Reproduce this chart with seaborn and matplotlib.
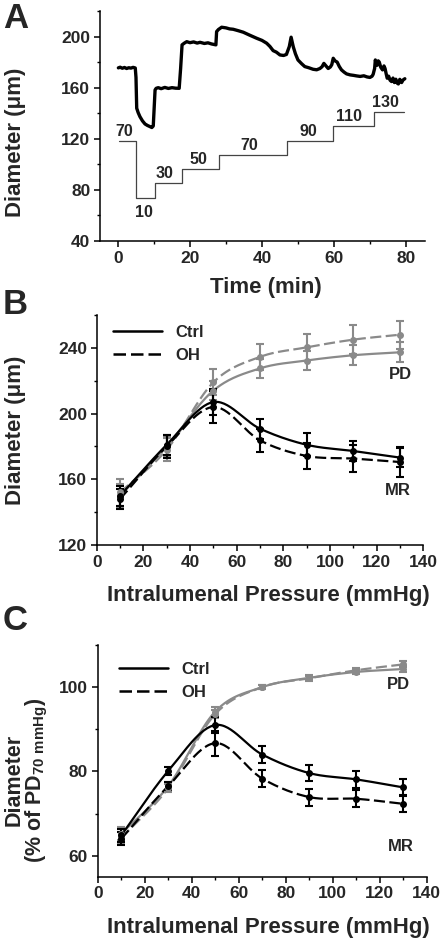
import numpy as np
import matplotlib
matplotlib.use("Agg")
import matplotlib.pyplot as plt
from matplotlib.ticker import MultipleLocator
import seaborn as sns

sns.set_theme(style="ticks")
plt.rcParams["font.family"] = ["Liberation Sans", "DejaVu Sans"]
plt.rcParams["font.weight"] = "bold"
plt.rcParams["mathtext.fontset"] = "custom"
plt.rcParams["mathtext.rm"] = "Liberation Sans:bold"
plt.rcParams["mathtext.it"] = "Liberation Sans:bold"
plt.rcParams["mathtext.bf"] = "Liberation Sans:bold"

# ---- panel A: diameter trace over time with pressure steps
trace_t = [0.1, 0.6, 1.2, 1.8, 2.4, 3.0, 3.6, 4.2, 4.8, 5.0, 5.2, 5.6, 6.1, 6.8, 7.5, 8.2, 8.9, 9.4, 9.8,
           10.3, 10.6, 11.2, 12.0, 13.0, 14.0, 15.0, 16.0, 17.0, 17.4, 17.8, 18.4, 19.1, 20.0, 21.0, 22.0,
           22.8, 24.0, 25.0, 26.0, 27.2, 27.4, 27.9, 28.8, 30.0, 31.0, 32.0, 33.4, 34.8, 36.5, 38.5,
           40.0, 41.3, 42.2, 43.1, 44.0, 45.0, 46.0, 46.8, 47.6, 48.1, 48.7, 49.3, 50.0, 51.0, 51.9,
           53.0, 54.2, 55.2, 56.1, 56.7, 57.2, 57.8, 58.4, 59.0, 59.4, 59.8, 60.3, 60.9, 61.5, 62.1,
           62.8, 63.5, 64.5, 65.5, 66.3, 67.3, 68.3, 69.2, 70.0, 70.6, 70.9, 71.3, 71.5, 71.8, 72.0,
           72.3, 72.6, 73.0, 73.5, 73.9, 74.2, 74.5, 74.8, 75.2, 75.6, 76.0, 76.4, 76.8, 77.2, 77.6,
           77.9, 78.3, 78.8, 79.2, 79.7]
trace_d = [175.5, 176.0, 175.2, 175.8, 175.0, 175.6, 175.3, 175.9, 175.4, 168.0, 143.9, 140.5, 137.3, 134.0,
           131.6, 130.4, 129.5, 128.8, 130.0, 158.2, 159.5, 160.0, 159.2, 160.2, 159.4, 160.0, 159.6, 159.5,
           175.0, 193.5, 194.8, 196.0, 195.2, 195.8, 194.9, 195.5, 194.6, 195.1, 194.2, 193.5, 203.9,
           205.5, 207.3, 206.8, 206.0, 205.7, 204.6, 203.4, 201.2, 198.7, 197.0, 194.8, 192.3, 189.0, 187.8,
           185.6, 185.2, 186.0, 192.2, 199.5, 192.0, 186.5, 181.7, 178.8, 176.5, 175.6, 174.4, 174.0, 175.0,
           176.4, 179.0, 177.0, 175.0, 176.2, 178.0, 183.0, 181.0, 180.0, 176.5, 173.9, 172.2, 170.8, 170.0,
           169.6, 169.2, 168.8, 169.3, 168.4, 168.0, 169.0, 170.5, 175.0, 181.7, 178.0, 177.5, 181.0,
           180.0, 176.0, 173.9, 177.0, 175.0, 171.0, 167.4, 169.0, 165.8, 164.8, 167.5, 164.0, 166.6,
           163.5, 162.9, 166.5, 164.0, 166.0, 167.0]

step_t = [0.3, 5.0, 10.3, 17.7, 28.0, 47.0, 59.8, 71.1, 79.5]
step_level = [118, 73.5, 85, 96, 107, 118.5, 130, 141, 141]
step_labels = ["70", "10", "30", "50", "70", "90", "110", "130"]
step_label_t = [1.7, 7.1, 12.8, 22.3, 36.5, 52.8, 64.2, 74.4]
step_label_y = [125.6, 62.3, 92.5, 103.4, 114.5, 125.6, 137.3, 148.5]

# ---- panels B and C: pressure-diameter relations
pressure = [10, 30, 50, 70, 90, 110, 130]

b_pd_ctrl = [150, 180, 214, 227.5, 232.3, 235.5, 237.3]
b_pd_ctrl_err = [7, 6, 6, 6, 6, 6, 6]
b_pd_oh = [152, 178, 219, 234.5, 240.3, 245, 248]
b_pd_oh_err = [8, 7, 8, 8, 8, 9, 8.5]
b_mr_ctrl = [150, 181, 207, 190.8, 181, 177.2, 173.2]
b_mr_ctrl_err = [6, 6, 8, 6, 7, 6, 6]
b_mr_oh = [148, 180, 204, 183.7, 174.2, 172.6, 170.5]
b_mr_oh_err = [6, 7, 10, 7, 8, 8, 9]

c_pd_ctrl = [65.2, 76.5, 94.2, 100, 102.2, 103.6, 104.3]
c_pd_ctrl_err = [1.5, 1.0, 1.0, 0.5, 0.6, 0.6, 0.7]
c_pd_oh = [64.2, 76.0, 93.6, 100, 102.1, 104.0, 105.4]
c_pd_oh_err = [1.5, 1.0, 1.0, 0.5, 0.6, 0.6, 0.7]
c_mr_ctrl = [64.8, 80.1, 91.0, 84.0, 79.6, 78.1, 76.2]
c_mr_ctrl_err = [1.5, 1.0, 2.0, 2.0, 2.0, 2.0, 2.0]
c_mr_oh = [64.0, 76.5, 86.7, 78.3, 73.9, 73.5, 72.3]
c_mr_oh_err = [1.5, 1.0, 3.0, 2.0, 2.0, 2.0, 2.0]

GRAY = "#8a8a8a"
BLACK = "#000000"
W, H = 445, 938


def smooth(x, y, n=30):
    # Catmull-Rom curve through the measured points (drawing only)
    P = np.column_stack([np.asarray(x, float), np.asarray(y, float)])
    P = np.vstack([2 * P[0] - P[1], P, 2 * P[-1] - P[-2]])
    segs = []
    t = np.linspace(0, 1, n, endpoint=False)[:, None]
    for i in range(1, len(P) - 2):
        p0, p1, p2, p3 = P[i - 1], P[i], P[i + 1], P[i + 2]
        segs.append(0.5 * (2 * p1 + (-p0 + p2) * t + (2 * p0 - 5 * p1 + 4 * p2 - p3) * t ** 2
                           + (-p0 + 3 * p1 - 3 * p2 + p3) * t ** 3))
    segs.append(P[-2][None])
    c = np.vstack(segs)
    return c[:, 0], c[:, 1]


def px_axes(l, r, t, b):
    return fig.add_axes([l / W, (H - b) / H, (r - l) / W, (b - t) / H])


def style(ax):
    sns.despine(ax=ax)
    for s in ("left", "bottom"):
        ax.spines[s].set_linewidth(1.1)
        ax.spines[s].set_color("black")
    ax.tick_params(which="major", direction="out", length=4, width=1.1, labelsize=12.5, pad=3, color="black")
    ax.tick_params(which="minor", direction="out", length=2.5, width=1.0, color="black")
    for lab in ax.get_xticklabels() + ax.get_yticklabels():
        lab.set_fontweight("bold")


def series(ax, x, y, err, color, dashed):
    sx, sy = smooth(x, y)
    ls = (0, (5, 2)) if dashed else "-"
    ax.plot(sx, sy, color=color, lw=1.6, ls=ls, zorder=2)
    ax.errorbar(x, y, yerr=err, fmt="o", ms=4, color=color, ecolor=color,
                elinewidth=1.5, capsize=3, capthick=1.5, zorder=3)


fig = plt.figure(figsize=(W / 100, H / 100), dpi=100)

# ---------------- A
axA = px_axes(100, 425, 11, 241)
sns.lineplot(x=trace_t, y=trace_d, ax=axA, color=BLACK, lw=2.4, sort=False)
axA.step(step_t, step_level, where="post", color="#444444", lw=0.9)
for lab, tx, ty in zip(step_labels, step_label_t, step_label_y):
    axA.text(tx, ty, lab, ha="center", va="center", fontsize=11.5, fontweight="bold")
axA.set_xlim(-5, 85.3)
axA.set_ylim(40, 220)
axA.xaxis.set_major_locator(MultipleLocator(20))
axA.xaxis.set_minor_locator(MultipleLocator(10))
axA.yaxis.set_major_locator(MultipleLocator(40))
axA.yaxis.set_minor_locator(MultipleLocator(20))
axA.set_yticks([40, 80, 120, 160, 200])
style(axA)
axA.set_xlabel("Time (min)", fontsize=16, fontweight="bold")
axA.set_ylabel("Diameter (\u03bcm)", fontsize=16, fontweight="bold")
axA.xaxis.set_label_coords(0.509, -0.155)
axA.yaxis.set_label_coords(-0.228, 0.43)

# ---------------- B
axB = px_axes(96.7, 423.3, 315, 545)
series(axB, pressure, b_pd_ctrl, b_pd_ctrl_err, GRAY, False)
series(axB, pressure, b_pd_oh, b_pd_oh_err, GRAY, True)
series(axB, pressure, b_mr_ctrl, b_mr_ctrl_err, BLACK, False)
series(axB, pressure, b_mr_oh, b_mr_oh_err, BLACK, True)
axB.text(130, 224, "PD", ha="center", va="center", fontsize=12, fontweight="bold")
axB.text(129, 153, "MR", ha="center", va="center", fontsize=12, fontweight="bold")
axB.set_xlim(0, 140)
axB.set_ylim(120, 260)
axB.xaxis.set_major_locator(MultipleLocator(20))
axB.xaxis.set_minor_locator(MultipleLocator(10))
axB.set_yticks([120, 160, 200, 240])
axB.yaxis.set_minor_locator(MultipleLocator(20))
style(axB)
axB.set_xlabel("Intralumenal Pressure (mmHg)", fontsize=16, fontweight="bold")
axB.set_ylabel("Diameter (\u03bcm)", fontsize=16, fontweight="bold")
axB.xaxis.set_label_coords(0.526, -0.175)
axB.yaxis.set_label_coords(-0.216, 0.497)

# ---------------- C
axC = px_axes(97.7, 426.7, 645, 876.7)
series(axC, pressure, c_pd_ctrl, c_pd_ctrl_err, GRAY, False)
series(axC, pressure, c_pd_oh, c_pd_oh_err, GRAY, True)
series(axC, pressure, c_mr_ctrl, c_mr_ctrl_err, BLACK, False)
series(axC, pressure, c_mr_oh, c_mr_oh_err, BLACK, True)
axC.text(128, 100.6, "PD", ha="center", va="center", fontsize=12, fontweight="bold")
axC.text(129, 62.2, "MR", ha="center", va="center", fontsize=12, fontweight="bold")
axC.set_xlim(0, 140)
axC.set_ylim(55, 110)
axC.xaxis.set_major_locator(MultipleLocator(20))
axC.xaxis.set_minor_locator(MultipleLocator(10))
axC.set_yticks([60, 80, 100])
axC.yaxis.set_minor_locator(MultipleLocator(10))
style(axC)
axC.set_xlabel("Intralumenal Pressure (mmHg)", fontsize=16, fontweight="bold")
axC.set_ylabel("Diameter\n(% of PD$_{\\mathbf{70\\ mmHg}}$)", fontsize=15.5, fontweight="bold",
               linespacing=0.95)
axC.xaxis.set_label_coords(0.52, -0.175)
axC.yaxis.set_label_coords(-0.145, 0.417)

# legends (B, C)
for ax, anchor in ((axB, (0.02, 1.0)), (axC, (0.035, 0.97))):
    h1, = ax.plot([], [], color=BLACK, lw=1.8, ls="-")
    h2, = ax.plot([], [], color=BLACK, lw=1.8, ls=(0, (5, 2)))
    leg = ax.legend([h1, h2], ["Ctrl", "OH"], loc="upper left", bbox_to_anchor=anchor,
                    frameon=False, handlelength=2.9, fontsize=12, labelspacing=0.5,
                    handletextpad=0.8, borderaxespad=0.2)
    for t in leg.get_texts():
        t.set_fontweight("bold")

# panel letters
for letter, ytop in (("A", 2), ("B", 288), ("C", 604)):
    fig.text(3 / W, 1 - ytop / H, letter, fontsize=25, fontweight="bold", va="top", ha="left")

fig.savefig("out.png", dpi=100)
